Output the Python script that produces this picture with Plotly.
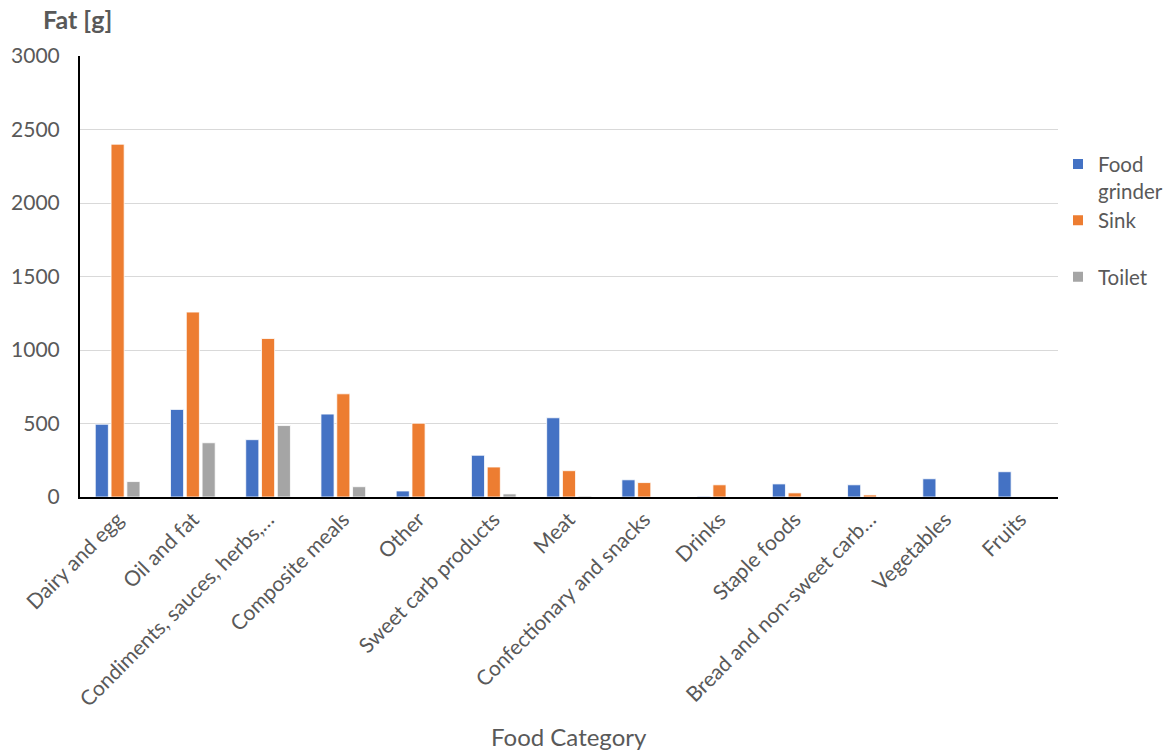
import plotly.graph_objects as go

categories = [
    "Dairy and egg", "Oil and fat", "Condiments, sauces, herbs,…", "Composite meals",
    "Other", "Sweet carb products", "Meat", "Confectionary and snacks", "Drinks",
    "Staple foods", "Bread and non-sweet carb…", "Vegetables", "Fruits",
]
food_grinder = [495, 596, 390, 564, 41, 284, 539, 117, 5, 89, 83, 124, 172]
sink = [2400, 1258, 1078, 702, 502, 204, 179, 98, 83, 28, 14, 0, 0]
toilet = [105, 369, 486, 70, 0, 21, 6, 0, 0, 0, 0, 0, 0]
y_ticks = [0, 500, 1000, 1500, 2000, 2500, 3000]

FONT = "Lato, 'Open Sans', sans-serif"
GREY_TEXT = "#595959"

fig = go.Figure()
for name, vals, color in [
    ("Food<br>grinder", food_grinder, "#4472C4"),
    ("Sink<br> ", sink, "#ED7D31"),
    ("Toilet", toilet, "#A5A5A5"),
]:
    fig.add_trace(go.Bar(
        x=categories, y=vals, name=name,
        marker=dict(color=color, line=dict(color="white", width=0.8)),
    ))

fig.update_layout(
    width=1169, height=751,
    margin=dict(l=80, r=111, t=56, b=254, autoexpand=False),
    paper_bgcolor="white", plot_bgcolor="white",
    barmode="group", bargap=0.37, bargroupgap=0.17,
    font=dict(family=FONT, size=21, color=GREY_TEXT),
    showlegend=True,
    legend=dict(
        x=1.0, xanchor="left", y=0.80, yanchor="top",
        font=dict(size=20.5, color=GREY_TEXT), valign="top",
        tracegroupgap=0, itemsizing="constant",
    ),
    xaxis=dict(
        showline=True, linecolor="black", linewidth=2,
        tickangle=-45, ticks="", showgrid=False,
        tickfont=dict(size=21, color=GREY_TEXT),
    ),
    yaxis=dict(
        range=[0, 3000], tickvals=y_ticks,
        showline=True, linecolor="black", linewidth=2,
        gridcolor="#D9D9D9", gridwidth=1.3, zeroline=False,
        ticks="", ticklabelstandoff=14,
        tickfont=dict(size=21, color=GREY_TEXT),
    ),
    annotations=[
        dict(text="<b>Fat [g]</b>", xref="paper", yref="paper", x=0, y=1,
             xanchor="center", yanchor="bottom", xshift=-3, yshift=20,
             showarrow=False, font=dict(size=25, color=GREY_TEXT)),
        dict(text="Food Category", xref="paper", yref="paper", x=0.5, y=0,
             xanchor="center", yanchor="middle", yshift=-239,
             showarrow=False, font=dict(size=24, color=GREY_TEXT)),
    ],
)

fig.write_html("out.html")
